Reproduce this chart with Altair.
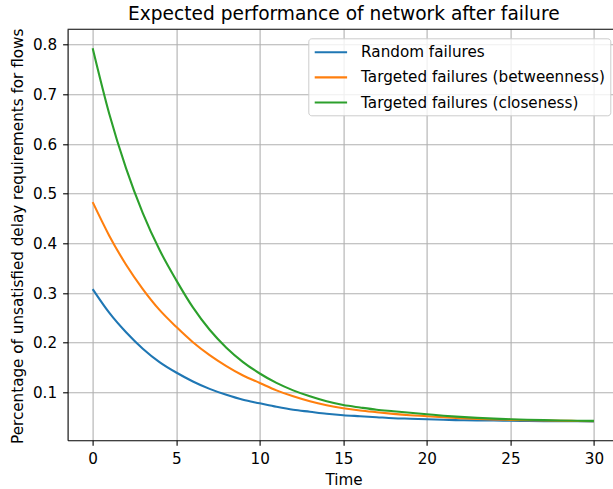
import altair as alt
import pandas as pd

# ---- data ----
time = list(range(31))
random_failures = [0.308, 0.260, 0.221, 0.188, 0.161, 0.140, 0.122, 0.107, 0.095, 0.085,
                   0.078, 0.071, 0.065, 0.061, 0.057, 0.054, 0.052, 0.050, 0.048, 0.047,
                   0.046, 0.045, 0.044, 0.0437, 0.0433, 0.0428, 0.0425, 0.0422, 0.042, 0.0418,
                   0.0417]
betweenness = [0.483, 0.415, 0.357, 0.308, 0.266, 0.232, 0.201, 0.175, 0.153, 0.134,
               0.119, 0.104, 0.092, 0.082, 0.074, 0.068, 0.0635, 0.060, 0.0567, 0.054,
               0.052, 0.0498, 0.048, 0.0466, 0.0455, 0.0446, 0.0439, 0.0433, 0.0428, 0.0425,
               0.0422]
closeness = [0.793, 0.660, 0.551, 0.461, 0.387, 0.326, 0.271, 0.226, 0.190, 0.161,
             0.138, 0.119, 0.104, 0.092, 0.082, 0.0745, 0.0695, 0.065, 0.062, 0.059,
             0.056, 0.053, 0.0506, 0.0487, 0.0471, 0.0459, 0.0449, 0.0441, 0.0435, 0.043,
             0.0426]
series_names = ["Random failures", "Targeted failures (betweenness)",
                "Targeted failures (closeness)"]
colors = ["#1f77b4", "#ff7f0e", "#2ca02c"]
x_ticks = [0, 5, 10, 15, 20, 25, 30]
y_ticks = [0.1, 0.2, 0.3, 0.4, 0.5, 0.6, 0.7, 0.8]

rows = []
for name, vals in zip(series_names, [random_failures, betweenness, closeness]):
    for t, v in zip(time, vals):
        rows.append({"Time": t, "value": v, "series": name})
df = pd.DataFrame(rows)

W, H = 545.4, 411
FONT = "DejaVu Sans"

lines = alt.Chart(df).mark_line(strokeWidth=2.1, interpolate="monotone", clip=True).encode(
    x=alt.X("Time:Q",
            scale=alt.Scale(domain=[-1.5, 31.14], nice=False, zero=False),
            axis=alt.Axis(values=x_ticks, format="d", title="Time",
                          titleX=276, titleY=38.7, titleBaseline="middle")),
    y=alt.Y("value:Q",
            scale=alt.Scale(domain=[0.0035, 0.831], nice=False, zero=False),
            axis=alt.Axis(values=y_ticks, format=".1f",
                          title="Percentage of unsatisfied delay requirements for flows",
                          titleX=-50, titleY=H / 2 + 1, titleBaseline="middle")),
    color=alt.Color("series:N",
                    scale=alt.Scale(domain=series_names, range=colors),
                    sort=series_names,
                    legend=alt.Legend(title=None, orient="none", legendX=240.7, legendY=9)),
)

top_spine = alt.Chart(pd.DataFrame({"k": [0]})).mark_rule(
    color="black", strokeWidth=1.1).encode(
    x=alt.value(0), x2=alt.value(W), y=alt.value(0))

chart = alt.layer(lines, top_spine).properties(
    width=W, height=H,
    padding={"left": 67.6, "top": 29.3, "right": 0, "bottom": 48.7},
    autosize=alt.AutoSizeParams(type="none"),
    title=alt.TitleParams("Expected performance of network after failure",
                          font=FONT, fontSize=18.6, fontWeight="normal", color="black",
                          baseline="alphabetic", offset=8.6, dx=3.5, dy=18.6,
                          anchor="middle", frame="group"),
).configure_view(stroke=None).configure_axis(
    labelFont=FONT, labelFontSize=15.2, labelColor="black",
    titleFont=FONT, titleFontSize=15.2, titleFontWeight="normal", titleColor="black",
    domainColor="black", domainWidth=1.1,
    tickColor="black", tickWidth=1.1, tickSize=5, labelPadding=6,
    grid=True, gridColor="#b0b0b0", gridWidth=1.1,
    labelFlush=False, labelOverlap=False,
).configure_legend(
    padding=4.5, rowPadding=7.1, symbolType="M-2,0H2", symbolSize=262,
    symbolOffset=8.6, symbolStrokeWidth=2.1,
    labelFont=FONT, labelFontSize=15.2, labelColor="black",
    labelOffset=20.7, labelLimit=400,
    fillColor="rgba(255,255,255,0.8)", strokeColor="#cccccc", cornerRadius=3,
)

chart.save("out.html", embed_options={"renderer": "svg", "actions": False})
